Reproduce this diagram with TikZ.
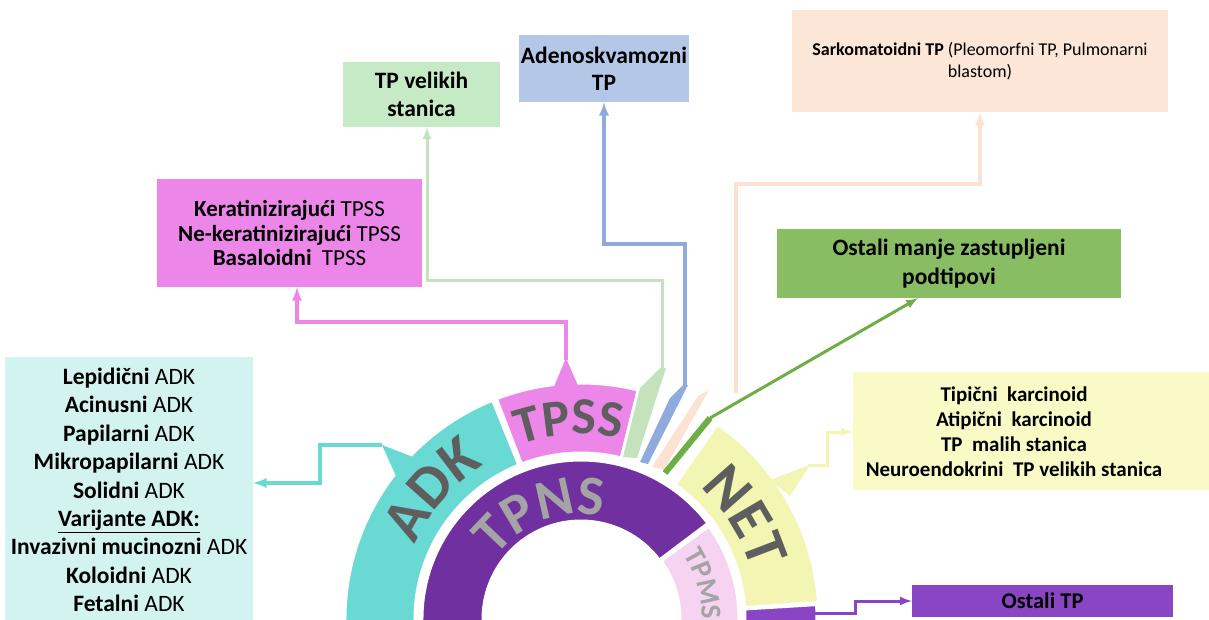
\documentclass[tikz,border=0pt]{standalone}
\usepackage{fontspec}
\setmainfont{Carlito}
\usetikzlibrary{decorations.text}
\definecolor{adkc}{HTML}{68D9D3}
\definecolor{adkbg}{HTML}{D3F3F1}
\definecolor{tpssc}{HTML}{EC86E8}
\definecolor{tpnsc}{HTML}{7030A0}
\definecolor{tpmsc}{HTML}{F6D3F0}
\definecolor{netc}{HTML}{F3F6B2}
\definecolor{netbg}{HTML}{F9FAC6}
\definecolor{velc}{HTML}{C4E3BD}
\definecolor{velbg}{HTML}{C6E9C6}
\definecolor{adenoc}{HTML}{8FAADC}
\definecolor{adenobg}{HTML}{B4C7E7}
\definecolor{sarkc}{HTML}{FBE2D3}
\definecolor{sarkbg}{HTML}{FCE6D8}
\definecolor{ostc}{HTML}{6DAE45}
\definecolor{ostbg}{HTML}{88BD63}
\definecolor{otpc}{HTML}{8A45C5}
\definecolor{ringgray}{HTML}{5E5E5E}
\definecolor{ringsilver}{HTML}{A4A4A4}
\begin{document}
\begin{tikzpicture}[x=1pt,y=-1pt,
  box/.style={inner sep=0pt,align=center,text=black},
  ring/.style={draw=white,line width=3pt},
  conn/.style={->,>=latex,line width=3.5pt},
  ringtext/.style={decorate,decoration={text along path,text align=center,text color=ringgray}}]
\useasboundingbox (0,0) rectangle (1209,619);
\clip (0,0) rectangle (1209,619);
\coordinate (c) at (581,619);

% outer ring
\filldraw[ring,fill=adkc] ([shift={(c)}]-190:236) arc[start angle=-190,end angle=-112,radius=236] -- ([shift={(c)}]-112:166) arc[start angle=-112,end angle=-190,radius=166] -- cycle;
\filldraw[ring,fill=tpssc] ([shift={(c)}]-111:236) arc[start angle=-111,end angle=-76,radius=236] -- ([shift={(c)}]-76:166) arc[start angle=-76,end angle=-111,radius=166] -- cycle;
\filldraw[ring,fill=netc] ([shift={(c)}]-55:238) arc[start angle=-55,end angle=-4,radius=238] -- ([shift={(c)}]-4:164) arc[start angle=-4,end angle=-55,radius=164] -- cycle;
\filldraw[ring,fill=otpc] ([shift={(c)}]-3.5:236) arc[start angle=-3.5,end angle=8,radius=236] -- ([shift={(c)}]8:164) arc[start angle=8,end angle=-3.5,radius=164] -- cycle;
% inner ring
\filldraw[ring,fill=tpnsc] ([shift={(c)}]-190:159) arc[start angle=-190,end angle=-37,radius=159] -- ([shift={(c)}]-37:98) arc[start angle=-37,end angle=-190,radius=98] -- cycle;
\filldraw[ring,fill=tpmsc] ([shift={(c)}]-36:158) arc[start angle=-36,end angle=8,radius=158] -- ([shift={(c)}]8:99) arc[start angle=8,end angle=-36,radius=99] -- cycle;

% callouts and thin wedges
\fill[adkc] (396,476) -- (382,445) -- (413,457) -- cycle;
\fill[tpssc] (553,389) -- (566,358) -- (579,388) -- cycle;
\fill[netc] (770,480) -- (810,465) -- (790,496) -- cycle;
\fill[velc] (623,457) -- (640,388) -- (660,368) -- (666,368) -- (637,458) -- cycle;
\fill[adenoc] (640,462) -- (670,398) -- (683,385) -- (688,385) -- (648,464) -- cycle;
\fill[sarkc] (652,467) -- (698,396) -- (709,390) -- (664,470) -- cycle;

\coordinate (adktip) at (382,445);
\coordinate (tpsstip) at (566,360);
\coordinate (veltip) at (662,370);
\coordinate (adenotip) at (685,387);
\coordinate (sarktip) at (736,393);
\coordinate (osttip) at (665,473);
\coordinate (ostbend) at (710,418);
\coordinate (nettip) at (808,465);
\coordinate (otptip) at (812,613);

% ring labels
\path[ringtext,decoration={text={|\fontsize{60}{60}\selectfont\bfseries|ADK}}] ([shift={(c)}]-175:182) arc[start angle=-175,end angle=-103,radius=182];
\path[ringtext,decoration={text={|\fontsize{52}{52}\selectfont\bfseries|TPSS}}] ([shift={(c)}]-128:185) arc[start angle=-128,end angle=-59,radius=185];
\path[ringtext,decoration={text={|\fontsize{60}{60}\selectfont\bfseries|NET}}] ([shift={(c)}]-68:177) arc[start angle=-68,end angle=4,radius=177];
\path[ringtext,decoration={text color=ringsilver,text={|\fontsize{56}{56}\selectfont\bfseries|TPNS}}] ([shift={(c)}]-170:105) arc[start angle=-170,end angle=-52,radius=105];
\path[ringtext,decoration={text color=ringsilver,text={|\fontsize{29}{29}\selectfont\bfseries|TPMS}}] ([shift={(c)}]-50:121) arc[start angle=-50,end angle=18,radius=121];

% boxes
\node[box,fill=adkbg,minimum width=248,minimum height=266,font=\fontsize{23.5}{28.4}\selectfont] (adkbox) at (129,490)
  {\textbf{Lepidični} ADK\\ \textbf{Acinusni} ADK\\ \textbf{Papilarni} ADK\\ \textbf{Mikropapilarni} ADK\\ \textbf{Solidni} ADK\\
   \underline{\textbf{Varijante ADK:}}\\ \textbf{Invazivni mucinozni} ADK\\ \textbf{Koloidni} ADK\\ \textbf{Fetalni} ADK};
\node[box,fill=tpssc,minimum width=265,minimum height=108,font=\fontsize{23}{24.5}\selectfont] (tpssbox) at (289.5,233)
  {\textbf{Keratinizirajući} TPSS\\ \textbf{Ne-keratinizirajući} TPSS\\ \textbf{Basaloidni}\ \ TPSS};
\node[box,fill=velbg,minimum width=157,minimum height=65,font=\fontsize{23.5}{28}\selectfont\bfseries] (velbox) at (421.5,94.5)
  {TP velikih\\ stanica};
\node[box,fill=adenobg,minimum width=170,minimum height=67,font=\fontsize{23.5}{27}\selectfont\bfseries] (adenobox) at (604,68.5)
  {Adenoskvamozni\\ TP};
\node[box,fill=sarkbg,minimum width=376,minimum height=102,font=\fontsize{18}{22}\selectfont] (sarkbox) at (980,61)
  {\textbf{Sarkomatoidni TP} (Pleomorfni TP, Pulmonarni\\ blastom)};
\node[box,fill=ostbg,minimum width=344,minimum height=69,font=\fontsize{23.5}{29}\selectfont\bfseries] (ostbox) at (949,263.5)
  {Ostali manje zastupljeni\\ podtipovi};
\node[box,fill=netbg,minimum width=356,minimum height=118] (netbox) at (1031,431) {};
\node[box,font=\fontsize{21}{25}\selectfont\bfseries] (nettext) at (1014,432)
  {Tipični\ \ karcinoid\\ Atipični\ \ karcinoid\\ TP\ \ malih stanica\\ Neuroendokrini\ \ TP velikih stanica};
\node[box,fill=otpc,minimum width=261,minimum height=32,font=\fontsize{22.5}{24}\selectfont\bfseries] (otpbox) at (1042.5,601)
  {Ostali TP};

% connectors
\draw[conn,adkc] (adktip) -- (320,445) -- (320,483) -- (adkbox.east |- 0,483);
\draw[conn,tpssc] (tpsstip) -- (566,322) -- (297,322) -- (tpssbox.south -| 297,0);
\draw[conn,velc,line width=3pt] (veltip) -- (662,280) -- (427,280) -- (velbox.south -| 427,0);
\draw[conn,adenoc] (adenotip) -- (685,244) -- (604,244) -- (adenobox.south);
\draw[conn,sarkc] (sarktip) -- (736,184) -- (980,184) -- (sarkbox.south);
\draw[ostc,line width=6pt] (osttip) -- (ostbend);
\draw[conn,ostc,line width=3pt] (ostbend) -- (ostbox.south -| 918,0);
\draw[conn,netc,line width=3pt] (nettip) -- (827,465) -- (827,432) -- (netbox.west |- 0,432);
\draw[conn,otpc,line width=3pt] (otptip) -- (855,613) -- (855,601) -- (otpbox.west);
\end{tikzpicture}
\end{document}
